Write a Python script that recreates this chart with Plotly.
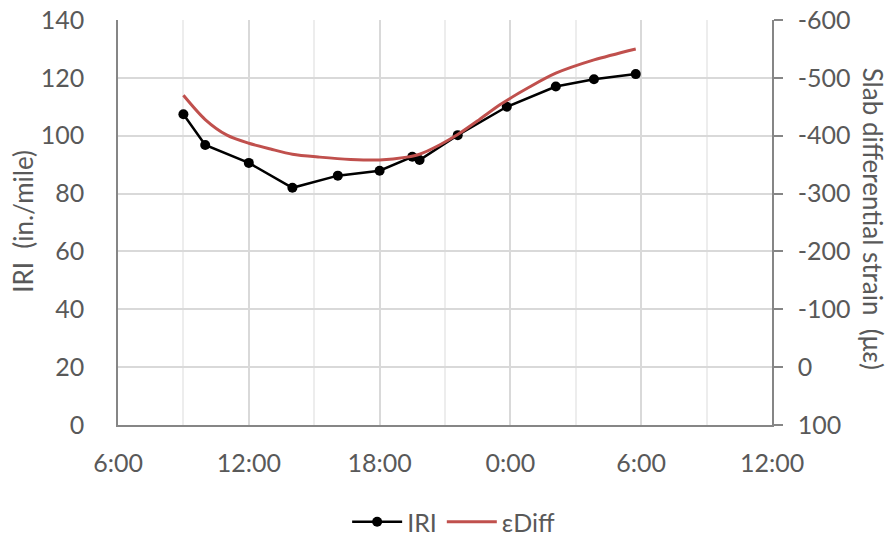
import plotly.graph_objects as go

# IRI measurements through the day (left axis)
iri_time = [
    "2020-01-01 09:00", "2020-01-01 10:00", "2020-01-01 12:00", "2020-01-01 14:00",
    "2020-01-01 16:05", "2020-01-01 18:00", "2020-01-01 19:30", "2020-01-01 19:50",
    "2020-01-01 21:35", "2020-01-01 23:50", "2020-01-02 02:05", "2020-01-02 03:50",
    "2020-01-02 05:45",
]
iri_value = [107.4, 96.8, 90.6, 82.0, 86.2, 87.9, 92.7, 91.6, 100.2, 110.0, 117.0, 119.5, 121.3]

# Slab differential strain (right axis, reversed)
diff_time = [
    "2020-01-01 09:00", "2020-01-01 10:00", "2020-01-01 11:00", "2020-01-01 12:00",
    "2020-01-01 13:00", "2020-01-01 14:00", "2020-01-01 15:15", "2020-01-01 16:40",
    "2020-01-01 18:00", "2020-01-01 19:15", "2020-01-01 19:50", "2020-01-01 20:45",
    "2020-01-01 21:35", "2020-01-01 22:35", "2020-01-01 23:30", "2020-01-02 00:55",
    "2020-01-02 02:05", "2020-01-02 03:50", "2020-01-02 05:45",
]
diff_value = [-470, -428, -401, -387, -377, -368, -363, -359, -358, -363, -368, -384,
              -402, -428, -453, -485, -508, -531, -550]

left_ticks = [0, 20, 40, 60, 80, 100, 120, 140]
right_ticks = [100, 0, -100, -200, -300, -400, -500, -600]

FONT = "Lato, 'Open Sans', sans-serif"
TXT = "#595959"
AXIS = "#868686"
GRID = "#d9d9d9"
MINOR = "#ededed"
TICK_SIZE = 25
TITLE_SIZE = 26

fig = go.Figure()
fig.add_trace(go.Scatter(
    x=iri_time, y=iri_value, name="IRI", mode="lines+markers",
    line=dict(color="#000000", width=2.5),
    marker=dict(color="#000000", size=10),
    yaxis="y",
))
fig.add_trace(go.Scatter(
    x=diff_time, y=diff_value, name="\u03b5Diff", mode="lines",
    line=dict(color="#c0504d", width=3, shape="spline", smoothing=0.8),
    yaxis="y2",
))

fig.update_layout(
    width=893, height=536,
    margin=dict(l=118, r=121, t=20, b=111, autoexpand=False),
    paper_bgcolor="white", plot_bgcolor="white",
    font=dict(family=FONT, size=TICK_SIZE, color=TXT),
    showlegend=True,
    legend=dict(
        orientation="h", xref="container", x=0.508, xanchor="center",
        yref="container", y=0.026, yanchor="middle",
        font=dict(family=FONT, size=TICK_SIZE, color=TXT),
        itemwidth=50, tracegroupgap=0,
    ),
    xaxis=dict(
        type="date", automargin=False,
        range=["2020-01-01 06:00", "2020-01-02 12:00"],
        tick0="2020-01-01 06:00", dtick=6 * 3600 * 1000,
        tickformat="%-H:%M",
        showgrid=True, gridcolor=GRID, gridwidth=1.5,
        minor=dict(dtick=3 * 3600 * 1000, showgrid=True, gridcolor=MINOR, gridwidth=1.5),
        showline=True, linecolor=AXIS, linewidth=1.5,
        ticks="", ticklabelstandoff=15,
        tickfont=dict(family=FONT, size=TICK_SIZE, color=TXT),
        zeroline=False,
    ),
    yaxis=dict(
        range=[0, 140], tickvals=left_ticks, automargin=False,
        showgrid=True, gridcolor=GRID, gridwidth=1.5,
        showline=True, linecolor=AXIS, linewidth=1.5,
        ticks="", ticklabelstandoff=27,
        tickfont=dict(family=FONT, size=TICK_SIZE, color=TXT),
        zeroline=False,
    ),
    yaxis2=dict(
        overlaying="y", side="right", automargin=False,
        range=[100, -600], tickvals=right_ticks,
        ticktext=[str(v) for v in right_ticks],
        showgrid=False,
        showline=True, linecolor=AXIS, linewidth=1.5,
        ticks="outside", ticklen=9, tickcolor=AXIS, tickwidth=1.5,
        ticklabelstandoff=10,
        tickfont=dict(family=FONT, size=TICK_SIZE, color=TXT),
        zeroline=False,
    ),
    annotations=[
        dict(text="IRI  (in./mile)", xref="paper", yref="paper",
             x=-0.145, y=0.502, xanchor="center", yanchor="middle",
             textangle=-90, showarrow=False,
             font=dict(family=FONT, size=TITLE_SIZE, color=TXT)),
        dict(text="Slab differential strain  (\u03bc\u03b5)", xref="paper", yref="paper",
             x=1.154, y=0.51, xanchor="center", yanchor="middle",
             textangle=90, showarrow=False,
             font=dict(family=FONT, size=TITLE_SIZE, color=TXT)),
    ],
)

fig.write_html("out.html")
